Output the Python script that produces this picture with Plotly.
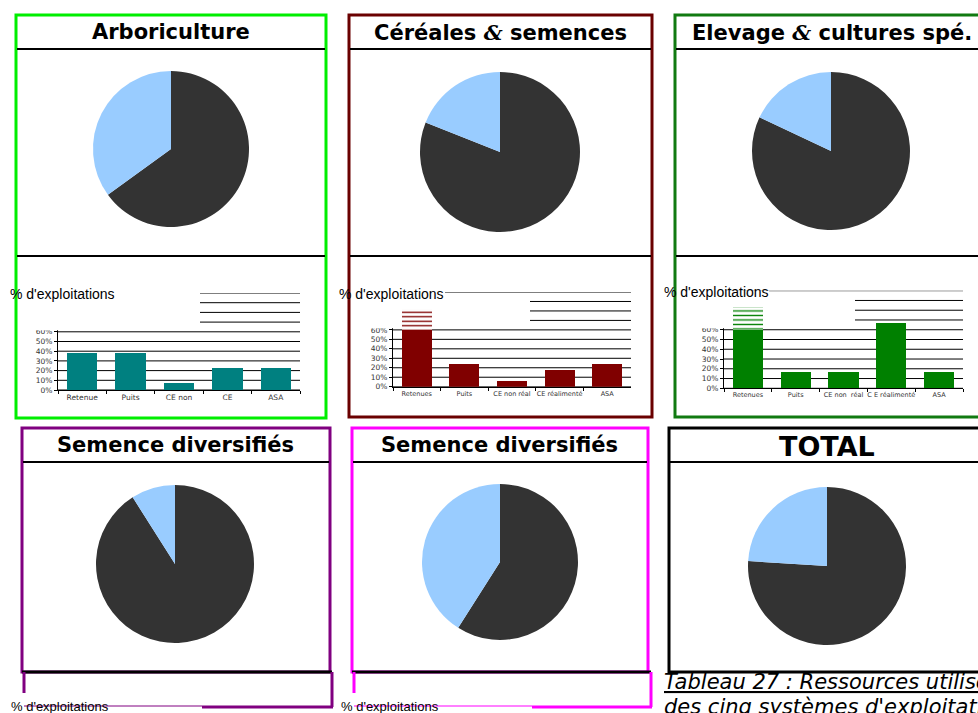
import plotly.graph_objects as go

W, H = 978, 713

# ---------------- data ----------------
pie_titles = ["Arboriculture", "Céréales & semences", "Elevage & cultures spé.",
              "Semence diversifiés", "Semence diversifiés", "TOTAL"]
pie_labels = ["Non", "Oui"]
pie_dark = [65, 81, 82, 91, 59, 76]
pie_light = [35, 19, 18, 9, 41, 24]

bar_categories_1 = ["Retenue", "Puits", "CE non", "CE", "ASA"]
bar_values_1 = [38.5, 38.5, 7.7, 23.1, 23.1]
bar_categories_2 = ["Retenues", "Puits", "CE non réal", "CE réalimenté", "ASA"]
bar_values_2 = [82.4, 23.5, 5.9, 17.6, 23.5]
bar_categories_3 = ["Retenues", "Puits", "CE non  réal", "C E réalimenté", "ASA"]
bar_values_3 = [83.3, 16.7, 16.7, 66.7, 16.7]

y_tick_values = [0, 10, 20, 30, 40, 50, 60, 70, 80, 90, 100]
y_tick_labels = [f"{v}%" for v in y_tick_values]
y_label = "% d'exploitations"
caption_1 = "Tableau 27 : Ressources utilisées par les exploitations"
caption_2 = "des cinq systèmes d'exploitation"

DARK = "#333333"
LIGHT = "#99ccff"


def fx(x):
    return x / W


def fy(y):
    return 1 - y / H


fig = go.Figure()
shapes = []
annotations = []

# ---------------- panels (layout) ----------------
panels = [
    dict(color="#00ee00", box=(16, 15, 326, 418), seps=(49, 256), tx=171, ty=32, fs=21, pie=(93, 71, 249, 227)),
    dict(color="#6a0000", box=(349, 15, 652, 417), seps=(49, 256), tx=500, ty=32, fs=21, pie=(420, 72, 580, 232)),
    dict(color="#117a11", box=(675, 15, 990, 417), seps=(49, 256), tx=832, ty=32, fs=21, pie=(752, 72, 910, 230)),
    dict(color="#800080", box=(22, 428, 330, 672), seps=(462,), tx=175, ty=445, fs=21, pie=(96, 485, 254, 643)),
    dict(color="#ff00ff", box=(352, 428, 648, 672), seps=(462,), tx=499, ty=445, fs=21, pie=(421, 484, 579, 640)),
    dict(color="#000000", box=(669, 428, 990, 672), seps=(462,), tx=827, ty=446, fs=27, pie=(748, 487, 906, 645)),
]

amp = "<i><span style=\"font-family:'DejaVu Serif'\">&amp;</span></i>"

for i, p in enumerate(panels):
    x0, y0, x1, y1 = p["pie"]
    fig.add_trace(go.Pie(
        labels=pie_labels, values=[pie_dark[i], pie_light[i]],
        marker=dict(colors=[DARK, LIGHT], line=dict(width=0)),
        sort=False, direction="clockwise", rotation=0,
        textinfo="none", showlegend=False, hoverinfo="label+percent",
        domain=dict(x=[fx(x0), fx(x1)], y=[fy(y1), fy(y0)]),
    ))
    title = pie_titles[i].replace("&", amp)
    annotations.append(dict(
        text=f"<b>{title}</b>", x=fx(p["tx"]), y=fy(p["ty"]), xref="paper", yref="paper",
        showarrow=False, xanchor="center", yanchor="middle",
        font=dict(family="DejaVu Sans", size=p["fs"], color="#000000")))

# ---------------- bar charts ----------------
bar_sets = [
    dict(cats=bar_categories_1, vals=bar_values_1, color="#008080", ax=(58, 300), ay=(293, 390),
         cover_x=200, cover_top=101.5, label_end=113, label=(8, 294), panel=0, xfs=7.5),
    dict(cats=bar_categories_2, vals=bar_values_2, color="#800000", ax=(393, 631), ay=(292, 386.7),
         cover_x=530, cover_top=98.5, label_end=445, label=(337, 294), panel=1, xfs=6.5),
    dict(cats=bar_categories_3, vals=bar_values_3, color="#008000", ax=(724, 963), ay=(290.7, 388.3),
         cover_x=855, cover_top=98.5, label_end=769, label=(662, 292), panel=2, xfs=6.5),
]

CUT = 60
for k, b in enumerate(bar_sets):
    n = k + 1
    xa = "x" if n == 1 else f"x{n}"
    ya = "y" if n == 1 else f"y{n}"
    ax0, ax1 = b["ax"]
    cover_frac = (b["cover_x"] - ax0) / (ax1 - ax0)
    lower = [min(v, CUT) for v in b["vals"]]
    upper = [max(v - CUT, 0) for v in b["vals"]]
    nc = len(b["cats"])
    shapes_pat = ["-" if (j + 0.5) / nc < cover_frac else "" for j in range(nc)]
    fig.add_trace(go.Bar(x=b["cats"], y=lower, xaxis=xa, yaxis=ya, marker=dict(color=b["color"], line=dict(width=0)),
                         showlegend=False, width=0.63))
    fig.add_trace(go.Bar(x=b["cats"], y=upper, xaxis=xa, yaxis=ya,
                         marker=dict(color=b["color"], line=dict(width=0),
                                     pattern=dict(shape=shapes_pat, fgcolor=b["color"], bgcolor="white",
                                                  size=4.5, solidity=0.3, fillmode="replace")),
                         showlegend=False, width=0.63))
    ay0, ay1 = b["ay"]
    fig.update_layout({
        f"xaxis{'' if n == 1 else n}": dict(
            domain=[fx(ax0), fx(ax1)], anchor=ya, type="category", showgrid=False, automargin=False,
            showline=True, linecolor="#000000", linewidth=1, ticks="outside", tickson="boundaries",
            ticklen=3, tickcolor="#000000", tickangle=0,
            tickfont=dict(family="DejaVu Sans", size=b["xfs"], color="#333333"),
            fixedrange=True),
        f"yaxis{'' if n == 1 else n}": dict(
            domain=[fy(ay1), fy(ay0)], anchor=xa, range=[0, 100], tickvals=y_tick_values,
            ticktext=y_tick_labels, showgrid=False, automargin=False,
            showline=True, linecolor="#000000", linewidth=1, ticks="outside", ticklen=3,
            tickcolor="#000000", tickfont=dict(family="DejaVu Sans", size=7.5, color="#333333"),
            zeroline=False, fixedrange=True),
    })
    # gridlines (drawn as shapes so that the cover can sit between grid and bars)
    for v in y_tick_values:
        shapes.append(dict(type="line", xref=f"{xa} domain", yref=ya, x0=0, x1=1, y0=v, y1=v,
                           line=dict(color="#000000", width=1), layer="below"))
    # white cover over the upper-left part of the grid (below the bars)
    shapes.append(dict(type="rect", xref=f"{xa} domain", yref=ya, x0=-0.01, x1=cover_frac,
                       y0=CUT + 1.2, y1=b["cover_top"], fillcolor="white", line=dict(width=0), layer="below"))
    shapes.append(dict(type="rect", xref=f"{xa} domain", yref=ya, x0=-0.01,
                       x1=(b["label_end"] - ax0) / (ax1 - ax0),
                       y0=95, y1=101.5, fillcolor="white", line=dict(width=0), layer="below"))
    # white cover over the hidden tick labels
    px0 = panels[b["panel"]]["box"][0] + 2
    shapes.append(dict(type="rect", xref="paper", yref="paper", x0=fx(px0), x1=fx(ax0 + 1),
                       y0=fy(ay1 - (ay1 - ay0) * (CUT + 1.6) / 100), y1=fy(ay0 - 7),
                       fillcolor="white", line=dict(width=0), layer="above"))
    lx, ly = b["label"]
    annotations.append(dict(text=y_label, x=fx(lx), y=fy(ly), xref="paper", yref="paper", showarrow=False,
                            xanchor="left", yanchor="middle",
                            font=dict(family="Liberation Sans", size=14, color="#000000")))

# panel borders and separators
for p in panels:
    x0, y0, x1, y1 = p["box"]
    shapes.append(dict(type="rect", xref="paper", yref="paper", x0=fx(x0), x1=fx(x1), y0=fy(y1), y1=fy(y0),
                       line=dict(color=p["color"], width=3), fillcolor="rgba(0,0,0,0)", layer="above"))
    for s in p["seps"]:
        shapes.append(dict(type="line", xref="paper", yref="paper", x0=fx(x0 + 1), x1=fx(x1 - 1), y0=fy(s), y1=fy(s),
                           line=dict(color="#000000", width=2), layer="above"))

# lower (empty) boxes under the two "Semence diversifiés" panels
for p, (lx0, lx1, mid) in zip(panels[3:5], [(24, 332, 202), (354, 651, 532)]):
    c = p["color"]
    top = p["box"][3]
    shapes += [
        dict(type="line", xref="paper", yref="paper", x0=fx(p["box"][0]), x1=fx(lx1), y0=fy(top), y1=fy(top),
             line=dict(color="#000000", width=3), layer="above"),
        dict(type="line", xref="paper", yref="paper", x0=fx(lx0), x1=fx(lx0), y0=fy(top), y1=fy(693),
             line=dict(color=c, width=3), layer="above"),
        dict(type="line", xref="paper", yref="paper", x0=fx(lx1), x1=fx(lx1), y0=fy(top), y1=fy(707),
             line=dict(color=c, width=3), layer="above"),
        dict(type="line", xref="paper", yref="paper", x0=fx(mid), x1=fx(lx1 + 1), y0=fy(707), y1=fy(707),
             line=dict(color=c, width=3), layer="above"),
        dict(type="line", xref="paper", yref="paper", x0=fx(lx0), x1=fx(mid), y0=fy(706), y1=fy(706),
             line=dict(color=c, width=1), layer="above"),
    ]
    annotations.append(dict(text=y_label, x=fx(lx0 - 15), y=fy(706), xref="paper", yref="paper",
                            showarrow=False, xanchor="left", yanchor="middle",
                            font=dict(family="Liberation Sans", size=13, color="#000000")))

# caption
annotations.append(dict(text=f"<u>{caption_1}</u>", x=fx(662), y=fy(682), xref="paper", yref="paper",
                        showarrow=False, xanchor="left", yanchor="middle",
                        font=dict(family="DejaVu Sans", size=21, color="#000000", style="italic")))
annotations.append(dict(text=caption_2, x=fx(662), y=fy(707), xref="paper", yref="paper",
                        showarrow=False, xanchor="left", yanchor="middle",
                        font=dict(family="DejaVu Sans", size=21, color="#000000", style="italic")))

fig.update_layout(
    width=W, height=H, autosize=False,
    margin=dict(l=0, r=0, t=0, b=0, pad=0, autoexpand=False),
    paper_bgcolor="white", plot_bgcolor="white",
    barmode="stack", bargap=0.37,
    shapes=shapes, annotations=annotations, showlegend=False,
)

fig.write_html("out.html", config={"displayModeBar": False, "staticPlot": False},
               post_script="document.body.style.margin='0';document.body.style.overflow='hidden';")
